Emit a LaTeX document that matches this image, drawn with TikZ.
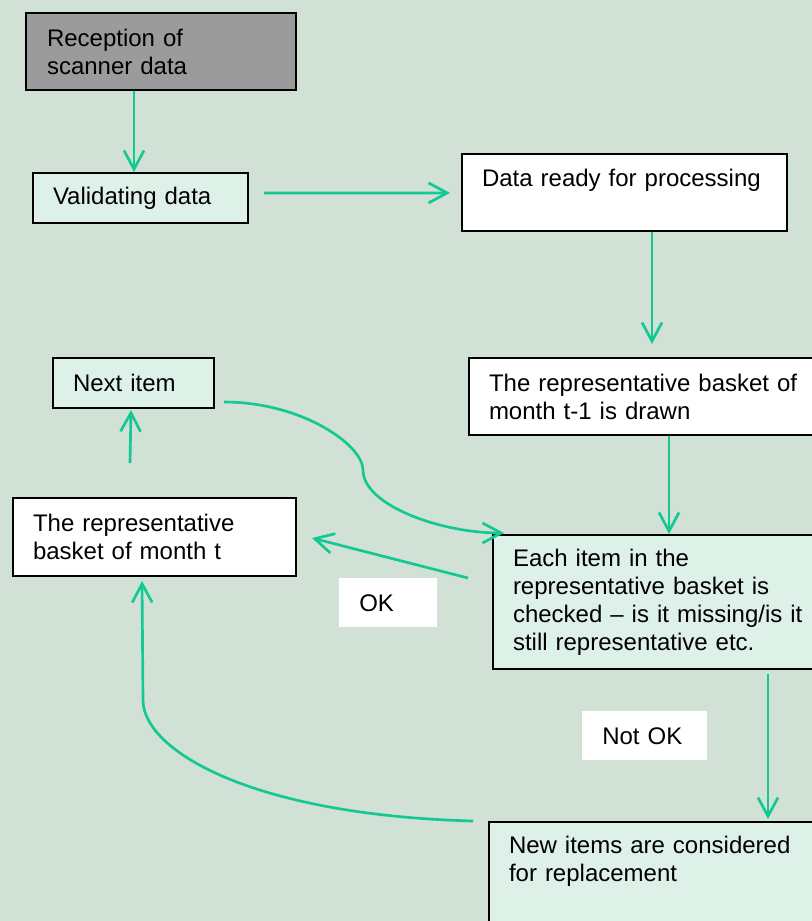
\documentclass[tikz,border=0pt]{standalone}
\usepackage{fontspec}
\setmainfont{Liberation Sans}
\usetikzlibrary{calc}
\usetikzlibrary{arrows.meta}
\definecolor{custom-bg}{RGB}{209, 225, 213}
\definecolor{custom-mint}{RGB}{222, 241, 232}
\definecolor{custom-grey}{RGB}{155, 155, 155}
\definecolor{custom-green}{RGB}{20, 200, 148}

\begin{document}
\begin{tikzpicture}[x=0.75pt, y=-0.75pt,
    box/.style={draw=black, line width=1.5pt, anchor=north west, align=left,
      inner xsep=15pt, inner ysep=0pt, font=\fontsize{18}{21}\selectfont},
    tag/.style={fill=white, anchor=north west, align=left,
      inner xsep=15pt, inner ysep=0pt, font=\fontsize{18}{21}\selectfont},
    flow/.style={draw=custom-green, line width=2pt,
      -{Straight Barb[length=14pt, width=15pt]}}]
\useasboundingbox (0,0) rectangle (812,921);
\clip (0,0) rectangle (812,921);
\fill[custom-bg] (0,0) rectangle (812,921);

% boxes
\node[box, fill=custom-grey, inner xsep=15.75pt, text width=171pt, minimum height=57.75pt] (rec) at (25,12) {Reception of\\scanner data};
\node[box, fill=custom-mint, text width=131.25pt, minimum height=37.5pt] (val) at (32,172) {Validating data};
\node[box, fill=white, text width=213.75pt, inner ysep=11.6pt, text depth=21.4pt] (rdy) at (461,153) {Data ready for processing};
\node[box, fill=white, text width=249pt, minimum height=57.75pt] (prev) at (468,357) {The representative basket of\\month t-1 is drawn};
\node[box, fill=custom-mint, text width=90.75pt, minimum height=37.5pt] (nxt) at (52,357) {Next item};
\node[box, fill=white, text width=182.25pt, minimum height=58.5pt] (cur) at (12,497) {The representative\\basket of month t};
\node[box, fill=custom-mint, text width=231pt, minimum height=100.5pt] (chk) at (492,534) {Each item in the\\representative basket is\\checked -- is it missing/is it\\still representative etc.};
\node[box, fill=custom-mint, text width=234pt, inner ysep=10.9pt, text depth=60pt] (new) at (488,821) {New items are considered\\for replacement};
\node[tag, text width=43.5pt, minimum height=36.75pt] (ok) at (339,578) {OK};
\node[tag, text width=63.75pt, minimum height=36.75pt] (notok) at (582,711) {Not OK};

% connectors
\coordinate (upfoot) at (130,463);
\coordinate (bend) at (363,470);
\coordinate (rise) at (143,700);
\draw[flow] ($(rec.south)+(-27,0)$) -- ($(val.north)+(-6.5,0)$);
\draw[flow] ($(val.east)+(15,-5)$) -- ($(rdy.west)+(-11,0.5)$);
\draw[flow] ($(rdy.south)+(27.5,0)$) -- ($(prev.north)+(-3,-13)$);
\draw[flow] ($(prev.south)+(14,0)$) -- ($(chk.north)+(2,0)$);
\draw[flow] (upfoot) -- ($(nxt.south)+(-2.5,1)$);
\draw[flow] ($(nxt.east)+(9,19)$) .. controls +(78,0) and +(0,-25) .. (bend) .. controls +(0,35) and +(-64,0) .. ($(chk.north west)+(12,-1)$);
\draw[flow] ($(chk.west)+(-24,-24)$) -- ($(cur.east)+(15,1)$);
\draw[flow] ($(chk.south)+(101,4)$) -- ($(new.north)+(103,-2)$);
\draw[flow] ($(new.north west)+(-15,0)$) .. controls +(-223,-6) and +(0,50) .. (rise) -- ($(cur.south)+(-12.5,4)$);
\end{tikzpicture}
\end{document}
